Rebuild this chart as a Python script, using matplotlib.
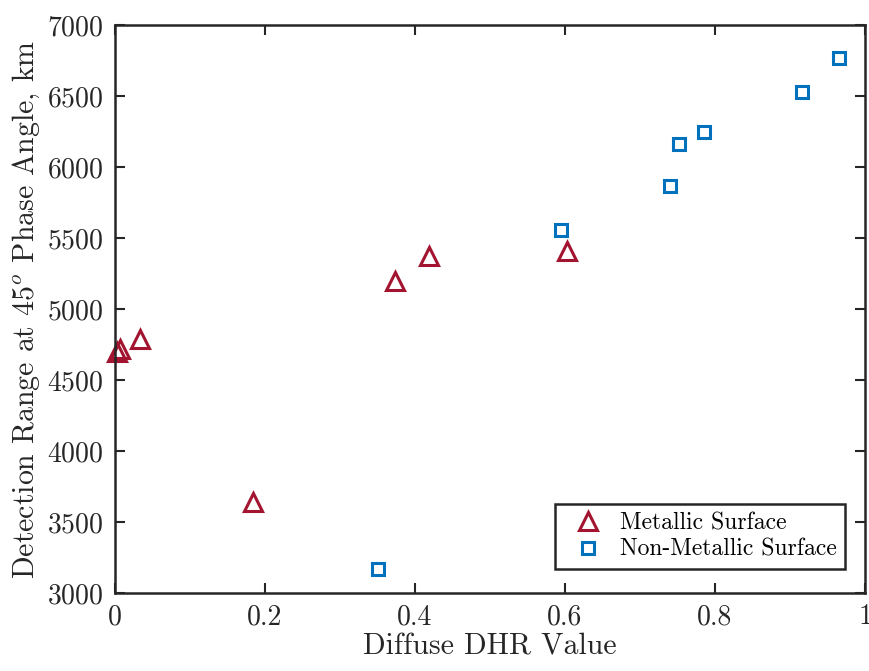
import numpy as np
import matplotlib
matplotlib.use('Agg')
import matplotlib.pyplot as plt

plt.rcParams['font.family'] = ['cmr10', 'DejaVu Serif']
plt.rcParams['mathtext.fontset'] = 'cm'
plt.rcParams['axes.formatter.use_mathtext'] = True

# metallic surfaces
met_x = [0.002, 0.006, 0.033, 0.184, 0.373, 0.419, 0.603]
met_y = [4700, 4715, 4790, 3640, 5200, 5370, 5410]

# non-metallic surfaces
non_x = [0.351, 0.595, 0.740, 0.752, 0.785, 0.916, 0.965]
non_y = [3170, 5560, 5865, 6165, 6250, 6525, 6770]

xticks = [0, 0.2, 0.4, 0.6, 0.8, 1]
xticklabels = ['0', '0.2', '0.4', '0.6', '0.8', '1']
yticks = [3000, 3500, 4000, 4500, 5000, 5500, 6000, 6500, 7000]

fig = plt.figure(figsize=(8.7, 6.71), dpi=100)
ax = fig.add_axes([0.1322, 0.1162, 0.8621, 0.8465])

ax.plot(met_x, met_y, linestyle='none', marker='^', markersize=12.5,
        markerfacecolor='none', markeredgecolor='#A2142F', markeredgewidth=2.2,
        label='Metallic Surface', clip_on=False)
ax.plot(non_x, non_y, linestyle='none', marker='s', markersize=8,
        markerfacecolor='none', markeredgecolor='#0072BD', markeredgewidth=2.2,
        label='Non-Metallic Surface', clip_on=False)

ax.set_xlim(0, 1)
ax.set_ylim(3000, 7000)
ax.set_xticks(xticks)
ax.set_xticklabels(xticklabels)
ax.set_yticks(yticks)
ax.tick_params(direction='in', length=7, width=1.5, labelsize=20,
               top=True, right=True, pad=8, colors='#262626')
for s in ax.spines.values():
    s.set_linewidth(1.8)
    s.set_color('#262626')

ax.set_xlabel('Diffuse DHR Value', fontsize=21.5, color='#262626', labelpad=2)
ax.set_ylabel(r'Detection Range at 45$^o$ Phase Angle, km', fontsize=21.5,
              color='#262626', labelpad=4)

leg = ax.legend(loc='lower right', fontsize=17, fancybox=False, framealpha=1,
                edgecolor='#262626', borderpad=0.35, handletextpad=0.3,
                handlelength=2.1, labelspacing=0.2, borderaxespad=0,
                bbox_to_anchor=(0.9735, 0.042))
leg.get_frame().set_linewidth(1.8)

fig.savefig('out.png', dpi=100)
